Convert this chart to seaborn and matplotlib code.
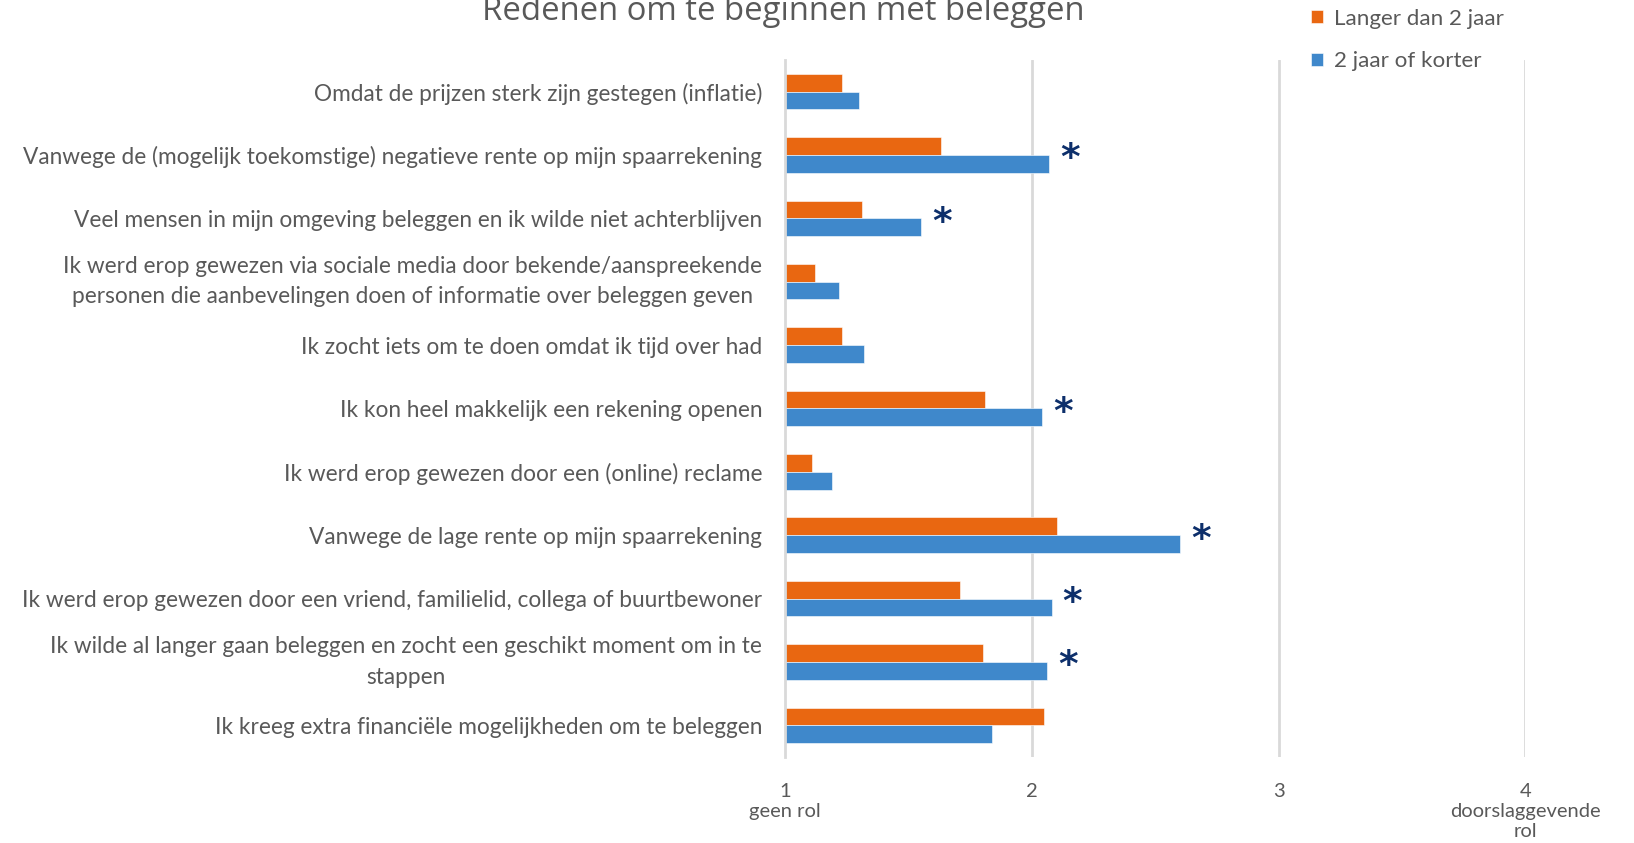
import seaborn as sns
import matplotlib.pyplot as plt
import pandas as pd

# reasons, top to bottom
redenen = [
    "Omdat de prijzen sterk zijn gestegen (inflatie)",
    "Vanwege de (mogelijk toekomstige) negatieve rente op mijn spaarrekening",
    "Veel mensen in mijn omgeving beleggen en ik wilde niet achterblijven",
    "Ik werd erop gewezen via sociale media door bekende/aanspreekende\npersonen die aanbevelingen doen of informatie over beleggen geven",
    "Ik zocht iets om te doen omdat ik tijd over had",
    "Ik kon heel makkelijk een rekening openen",
    "Ik werd erop gewezen door een (online) reclame",
    "Vanwege de lage rente op mijn spaarrekening",
    "Ik werd erop gewezen door een vriend, familielid, collega of buurtbewoner",
    "Ik wilde al langer gaan beleggen en zocht een geschikt moment om in te\nstappen",
    "Ik kreeg extra financiële mogelijkheden om te beleggen",
]
langer = [1.23, 1.63, 1.31, 1.12, 1.23, 1.81, 1.11, 2.10, 1.71, 1.80, 2.05]
korter = [1.30, 2.07, 1.55, 1.22, 1.32, 2.04, 1.19, 2.60, 2.08, 2.06, 1.84]
significant = [False, True, True, False, False, True, False, True, True, True, False]

groepen = ["Langer dan 2 jaar", "2 jaar of korter"]
kleuren = ["#E96711", "#3F88CB"]
xtick_labels = ["1\ngeen rol", "2", "3", "4\ndoorslaggevende\nrol"]

df = pd.DataFrame({
    "reden": redenen * 2,
    "score": langer + korter,
    "groep": [groepen[0]] * len(redenen) + [groepen[1]] * len(redenen),
})

sns.set_style("white")
plt.rcParams["font.family"] = ["Lato", "DejaVu Sans"]
grijs = "#595959"

fig = plt.figure(figsize=(16.34, 8.43), dpi=100)
ax = fig.add_axes([0.4805, 0.102, 0.453, 0.827])

sns.barplot(data=df, y="reden", x="score", hue="groep", orient="h",
            order=redenen, hue_order=groepen, palette=kleuren, saturation=1,
            width=0.56, edgecolor="white", linewidth=0.4, ax=ax)

ax.set_xlim(1, 4)
ax.set_ylim(len(redenen) - 0.5, -0.5)
ax.set_xticks([1, 2, 3, 4])
ax.set_xticklabels(xtick_labels, color=grijs, fontsize=14.5, linespacing=1.2)
ax.tick_params(axis="x", length=0, pad=19)
ax.tick_params(axis="y", which="major", length=0, pad=16.5, labelsize=16.3, labelcolor=grijs)
for lbl in ax.get_yticklabels():
    if "\n" in lbl.get_text():
        lbl.set_multialignment("center")
        lbl.set_linespacing(1.55)
        lbl.set_verticalalignment("center")
ax.set_yticks([i - 0.5 for i in range(len(redenen) + 1)], minor=True)
ax.tick_params(axis="y", which="minor", length=7, width=2, color="#D9D9D9")
ax.set_xlabel("")
ax.set_ylabel("")

for x in [2, 3, 4]:
    ax.axvline(x, color="#D9D9D9", lw=2, zorder=0)
for side in ["top", "right", "bottom"]:
    ax.spines[side].set_visible(False)
ax.spines["left"].set_color("#D9D9D9")
ax.spines["left"].set_linewidth(2)

for i, (v, s) in enumerate(zip(korter, significant)):
    if s:
        ax.text(v + 0.045, i + 0.07, "*", color="#0D2F6B", fontsize=27,
                fontweight="bold", ha="left", va="center", family="DejaVu Sans")

ax.legend_.remove()
handles, labels = ax.get_legend_handles_labels()
fig.legend(handles, labels, loc="upper left", bbox_to_anchor=(0.7956, 1.003),
           frameon=False, fontsize=16.1, labelcolor=grijs, handlelength=0.55,
           handleheight=0.55, handletextpad=0.45, labelspacing=1.02, borderpad=0)

fig.text(0.4795, 0.976, "Redenen om te beginnen met beleggen", ha="center",
         va="baseline", fontsize=23.7, color=grijs, family="Open Sans")

plt.savefig("out.png", dpi=100)
